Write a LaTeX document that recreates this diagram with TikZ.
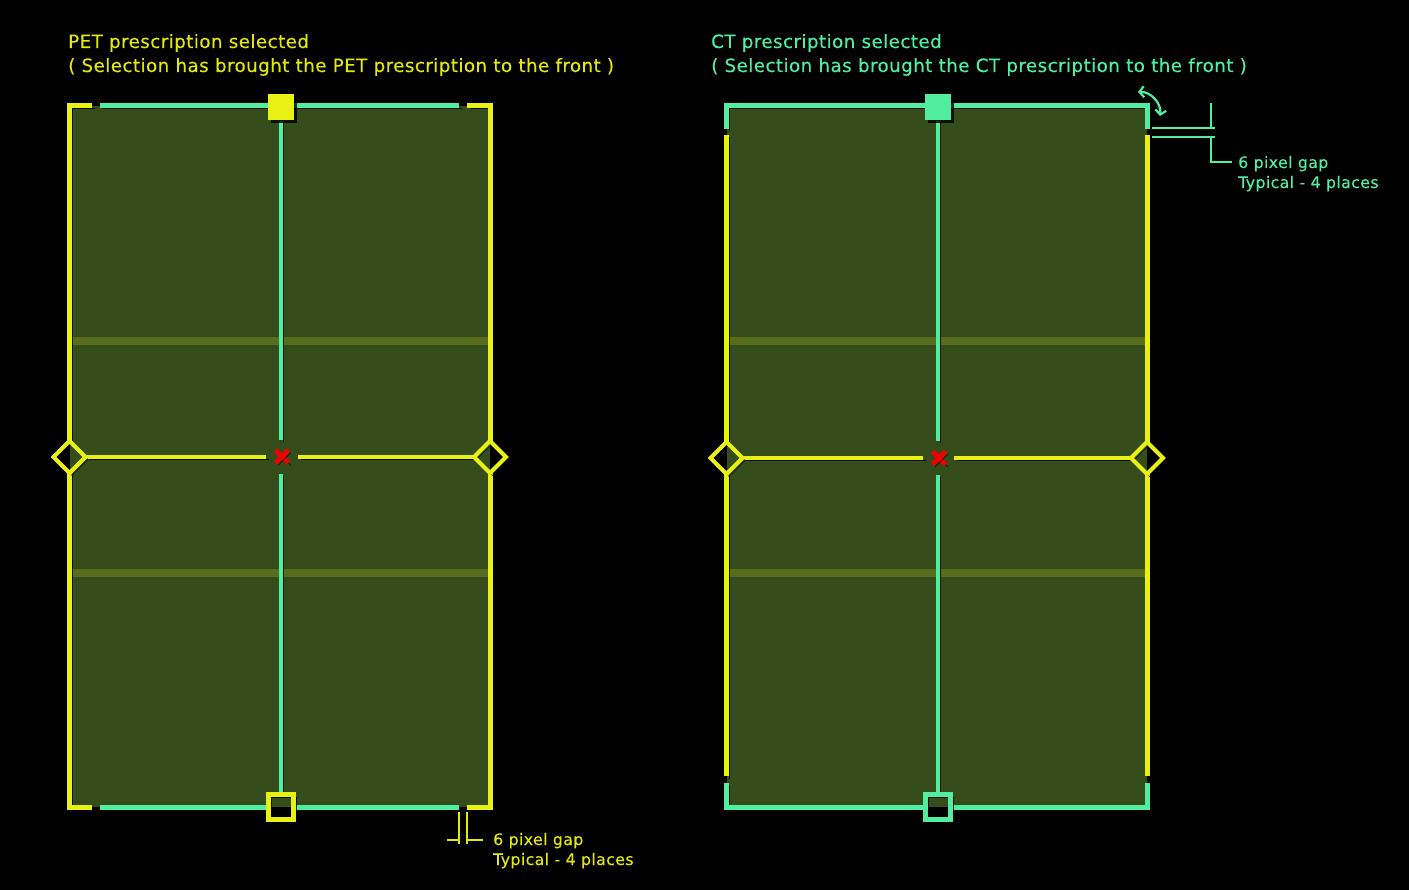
\documentclass[tikz,border=0pt]{standalone}
\usepackage{fontspec}
\setmainfont{DejaVu Sans}[LetterSpace=2.3,FakeBold=0.3]
\usetikzlibrary{arrows.meta}
\begin{document}
\begin{tikzpicture}[x=1pt,y=-1pt]
\definecolor{bgfill}{RGB}{52,77,27}
\definecolor{stripe}{RGB}{88,108,30}
\definecolor{ylw}{RGB}{232,240,20}
\definecolor{cyn}{RGB}{82,238,160}
\definecolor{txtyl}{RGB}{225,232,10}
\definecolor{red1}{RGB}{240,0,0}
\tikzset{
  shadowed/.style={preaction={draw=black,opacity=0.8,transform canvas={shift={(2.5pt,-2.5pt)}}}},
  bord/.style={line width=5pt,shadowed},
  cline/.style={line width=4.2pt,shadowed},
  hline/.style={line width=4.5pt,shadowed},
  lbl/.style={inner sep=0pt,anchor=base west,font=\fontsize{18.3}{22}\selectfont},
  note/.style={inner sep=0pt,anchor=base west,font=\fontsize{15.8}{18}\selectfont},
  dim/.style={line width=1.3pt},
  xmark/.style={line width=4.8pt,red1,shadowed},
}
\useasboundingbox (0,0) rectangle (1409,890);
\fill[black] (0,0) rectangle (1409,890);

% ================= LEFT PANEL (PET) =================
\fill[bgfill] (69.5,106) rectangle (490,807);
\fill[stripe] (69.5,337) rectangle (490,345);
\fill[stripe] (69.5,569) rectangle (490,577);
% borders
\draw[bord,ylw] (92,106) -- (69.5,106) -- (69.5,441);
\draw[bord,ylw] (69.5,473) -- (69.5,807) -- (92,807);
\draw[bord,ylw] (467,106) -- (490,106) -- (490,441);
\draw[bord,ylw] (490,473) -- (490,807) -- (467,807);
\draw[bord,cyn] (100,106) -- (459,106);
\draw[bord,cyn] (100,807) -- (268,807);
\draw[bord,cyn] (294,807) -- (459,807);
% centre lines
\draw[cline,cyn] (281,121) -- (281,440);
\draw[cline,cyn] (281,474) -- (281,793);
\draw[hline,ylw] (86,457) -- (266,457);
\draw[hline,ylw] (298,457) -- (474,457);
% handles
\fill[black,opacity=0.8] (270.5,96.5) rectangle (296.5,123.5);
\node[draw=none,fill=ylw,minimum size=26pt,inner sep=0pt] (petTop) at (281,107.5) {};
\draw[line width=4.2pt,ylw,shadowed] (268.5,794.5) rectangle (293.5,819.5);
\node[inner sep=0pt] (petBot) at (281,807) {};
\draw[line width=4.2pt,ylw,shadowed,line join=miter] (53.5,457) -- (69.5,441) -- (85.5,457) -- (69.5,473) -- cycle;
\draw[line width=4.2pt,ylw,shadowed,line join=miter] (474,457) -- (490,441) -- (506,457) -- (490,473) -- cycle;
\node[inner sep=0pt] (petL) at (69.5,457) {};
\node[inner sep=0pt] (petR) at (490,457) {};
% centre X
\draw[xmark] (275.5,450) -- (288.5,463);
\draw[xmark] (288.5,450) -- (275.5,463);
% titles
\node[lbl,text=txtyl] (petT1) at (68,48) {PET prescription selected};
\node[lbl,text=txtyl] (petT2) at (68,72) {( Selection has brought the PET prescription to the front )};
% dimension note
\draw[dim,txtyl] (459,812) -- (459,844);
\draw[dim,txtyl] (467,812) -- (467,844);
\draw[dim,txtyl] (447,840) -- (459,840);
\draw[dim,txtyl] (467,840) -- (483,840);
\node[note,text=txtyl] (petN1) at (493,845) {6 pixel gap};
\node[note,text=txtyl] (petN2) at (493,865) {Typical - 4 places};

% ================= RIGHT PANEL (CT) =================
\fill[bgfill] (726.5,106) rectangle (1147,807);
\fill[stripe] (726.5,337) rectangle (1147,345);
\fill[stripe] (726.5,569) rectangle (1147,577);
% borders
\draw[bord,cyn] (726.5,129) -- (726.5,106) -- (1147,106) -- (1147,129);
\draw[bord,ylw] (726.5,135) -- (726.5,442);
\draw[bord,ylw] (726.5,474) -- (726.5,776);
\draw[bord,ylw] (1147,135) -- (1147,442);
\draw[bord,ylw] (1147,474) -- (1147,776);
\draw[bord,cyn] (726.5,783) -- (726.5,807) -- (925,807);
\draw[bord,cyn] (951,807) -- (1147,807) -- (1147,783);
% centre lines
\draw[cline,cyn] (938,121) -- (938,441);
\draw[cline,cyn] (938,475) -- (938,793);
\draw[hline,ylw] (742.5,458) -- (923,458);
\draw[hline,ylw] (954,458) -- (1131,458);
% handles
\fill[black,opacity=0.8] (927.5,96.5) rectangle (953.5,123.5);
\node[draw=none,fill=cyn,minimum size=26pt,inner sep=0pt] (ctTop) at (938,107.5) {};
\draw[line width=4.2pt,cyn,shadowed] (925.5,794.5) rectangle (950.5,819.5);
\node[inner sep=0pt] (ctBot) at (938,807) {};
\draw[line width=4.2pt,ylw,shadowed,line join=miter] (710.5,458) -- (726.5,442) -- (742.5,458) -- (726.5,474) -- cycle;
\draw[line width=4.2pt,ylw,shadowed,line join=miter] (1131,458) -- (1147,442) -- (1163,458) -- (1147,474) -- cycle;
\node[inner sep=0pt] (ctL) at (726.5,458) {};
\node[inner sep=0pt] (ctR) at (1147,458) {};
% centre X
\draw[xmark] (932.5,451.5) -- (945.5,464.5);
\draw[xmark] (945.5,451.5) -- (932.5,464.5);
% titles
\node[lbl,text=cyn] (ctT1) at (711,48) {CT prescription selected};
\node[lbl,text=cyn] (ctT2) at (711,72) {( Selection has brought the CT prescription to the front )};
% swap arrow
\coordinate (arA) at (1138,92);
\coordinate (arB) at (1160,116);
\draw[cyn,line width=2.2pt,{Straight Barb[length=4.5pt,width=11pt]}-{Straight Barb[length=4.5pt,width=11pt]}] (arA) to[bend left=50] (arB);
% dimension note
\draw[dim,cyn] (1211,103) -- (1211,128);
\draw[dim,cyn] (1152,128) -- (1215,128);
\draw[dim,cyn] (1152,137) -- (1215,137);
\draw[dim,cyn] (1211,137) -- (1211,162) -- (1232,162);
\node[note,text=cyn] (ctN1) at (1238,168) {6 pixel gap};
\node[note,text=cyn] (ctN2) at (1238,188) {Typical - 4 places};
\end{tikzpicture}
\end{document}
